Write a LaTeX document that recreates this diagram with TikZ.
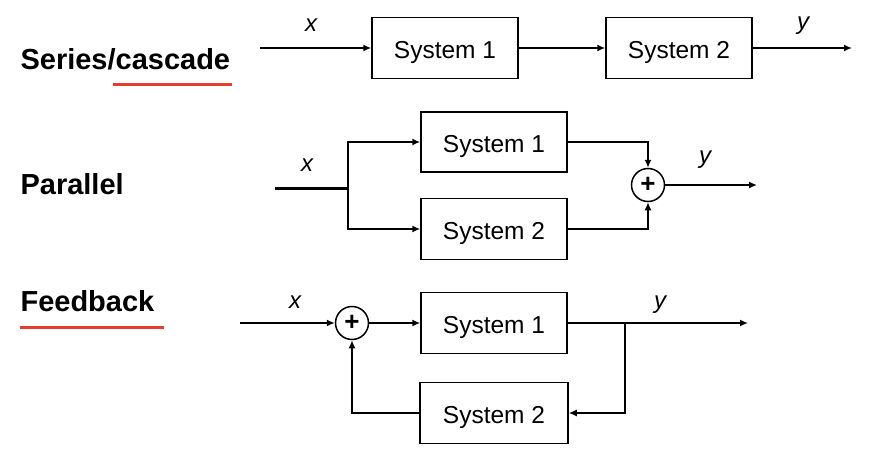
\documentclass[tikz,border=0pt]{standalone}
\usepackage{fontspec}
\setmainfont{Liberation Sans}
\usetikzlibrary{arrows.meta}
\definecolor{ulred}{RGB}{233,60,45}
\begin{document}
\begin{tikzpicture}[x=1pt,y=-1pt,
  sysbox/.style={draw,line width=1.5pt,minimum width=146pt,minimum height=61pt,inner sep=0pt,text height=21pt,text depth=0pt,font=\fontsize{24.5}{28}\selectfont},
  sumnode/.style={draw,circle,line width=1.5pt,minimum size=33pt,inner sep=0pt,font=\fontsize{26}{28}\selectfont\bfseries},
  conn/.style={line width=1.5pt,-{Latex[length=8pt,width=7pt]}},
  title/.style={anchor=base west,font=\fontsize{29}{32}\selectfont\bfseries},
  sig/.style={anchor=base,font=\fontsize{24}{26}\selectfont\itshape},
  uline/.style={line width=3pt,ulred}]
\useasboundingbox (0,0) rectangle (870,452);
% Series
\node[title] (tS) at (17,70) {Series/cascade};
\coordinate (u1a) at (113,84); \coordinate (u1b) at (232,84);
\draw[uline] (u1a) -- (u1b);
\coordinate (sin) at (260,48);
\node[sysbox] (S1) at (445,48) {System 1};
\node[sysbox] (S2) at (679,48) {System 2};
\coordinate (sout) at (852,48);
\draw[conn] (sin) -- (S1);
\draw[conn] (S1) -- (S2);
\draw[conn] (S2) -- (sout);
\node[sig] (sx) at (311,32) {x};
\node[sig] (sy) at (803,30) {y};
% Parallel
\node[title] (tP) at (17,194) {Parallel};
\coordinate (pin) at (275,188);
\coordinate (pbr) at (348,188);
\node[sysbox,minimum height=60pt] (P1) at (494,142) {System 1};
\node[sysbox,minimum height=61pt] (P2) at (494,229) {System 2};
\node[sumnode] (ps) at (648,185) {+};
\coordinate (pout) at (757,185);
\draw[line width=3pt] (pin) -- (pbr);
\draw[conn] (pbr) |- (P1.west);
\draw[conn] (pbr) |- (P2.west);
\draw[conn] (P1.east) -| (ps.north);
\draw[conn] (P2.east) -| (ps.south);
\draw[conn] (ps.east) -- (pout);
\node[sig] (px) at (307,171) {x};
\node[sig] (py) at (705,163) {y};
% Feedback
\node[title] (tF) at (17,311) {Feedback};
\coordinate (u2a) at (20,327); \coordinate (u2b) at (164,327);
\draw[uline] (u2a) -- (u2b);
\coordinate (fin) at (240,323);
\node[sumnode] (fs) at (352,323) {+};
\node[sysbox] (F1) at (494,323) {System 1};
\node[sysbox,minimum width=148pt] (F2) at (494,413) {System 2};
\coordinate (fbr) at (625,323);
\coordinate (fout) at (748,323);
\draw[conn] (fin) -- (fs.west);
\draw[conn] (fs.east) -- (F1.west);
\draw[conn] (F1.east) -- (fout);
\draw[conn] (fbr) |- (F2.east);
\draw[conn] (F2.west) -| (fs.south);
\node[sig] (fx) at (295,308) {x};
\node[sig] (fy) at (660,308) {y};
\end{tikzpicture}
\end{document}
